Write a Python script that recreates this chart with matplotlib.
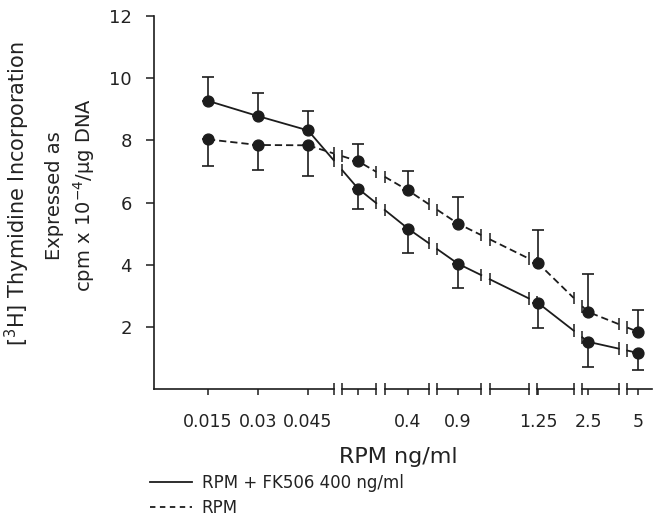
import numpy as np
import matplotlib.pyplot as plt
from matplotlib.lines import Line2D

plt.rcParams['font.family'] = 'DejaVu Sans'
plt.rcParams['mathtext.default'] = 'regular'

# doses on the broken x axis (one slot has no label in the original)
dose_labels = ['0.015', '0.03', '0.045', '', '0.4', '0.9', '1.25', '2.5', '5']

# RPM + FK506 400 ng/ml (solid)
fk_mean = [9.27, 8.78, 8.32, 6.45, 5.16, 4.03, 2.77, 1.52, 1.16]
fk_err_up = [0.77, 0.74, 0.61, 0, 0, 0, 0, 0, 0]
fk_err_down = [0, 0, 0, 0.65, 0.77, 0.77, 0.80, 0.81, 0.55]

# RPM alone (dashed)
rpm_mean = [8.03, 7.85, 7.84, 7.33, 6.39, 5.32, 4.05, 2.48, 1.84]
rpm_err_up = [0, 0, 0, 0.56, 0.62, 0.85, 1.05, 1.23, 0.69]
rpm_err_down = [0.84, 0.79, 0.99, 0, 0, 0, 0, 0, 0]

# layout of the broken axis, in slot units
x = np.arange(len(dose_labels), dtype=float)
x[6:] += 0.6  # empty segment between 0.9 and 1.25
breaks = [2.6, 3.45, 4.5, 5.55, 6.5, 7.4, 8.3]
gap = 0.17
ink = '#1c1c1c'

fig = plt.figure(figsize=(6.63, 5.27), dpi=100)
ax = fig.add_axes([154 / 663, 1 - 389 / 527, (652 - 154) / 663, (389 - 16) / 527])
ax.set_xlim(-1.08, 8.88)
ax.set_ylim(0, 12)


def broken_line(xs, ys, **kw):
    """Draw a line through the points with a gap and two bars at every axis break."""
    px, py, bx, by = [], [], [], []
    for i in range(len(xs)):
        px.append(xs[i])
        py.append(ys[i])
        if i == len(xs) - 1:
            break
        for b in breaks:
            if xs[i] < b < xs[i + 1]:
                left, right = b - gap / 2, b + gap / 2
                yl = np.interp(left, [xs[i], xs[i + 1]], [ys[i], ys[i + 1]])
                yr = np.interp(right, [xs[i], xs[i + 1]], [ys[i], ys[i + 1]])
                px += [left, np.nan, right]
                py += [yl, np.nan, yr]
                bx += [left, right]
                by += [yl, yr]
    ax.plot(px, py, color=ink, lw=1.3, **kw)
    by = np.array(by)
    ax.vlines(bx, by - 0.2, by + 0.2, color=ink, lw=1.1)


for mean, up, down, ls in [(fk_mean, fk_err_up, fk_err_down, '-'),
                           (rpm_mean, rpm_err_up, rpm_err_down, (0, (4, 2.2)))]:
    mean = np.array(mean)
    broken_line(x, mean, linestyle=ls)
    ax.errorbar(x, mean, yerr=[down, up], fmt='none', ecolor=ink,
                elinewidth=1.2, capsize=4, capthick=1.2)
    ax.plot(x, mean, 'o', color=ink, markersize=7.8, zorder=5)

# bottom axis drawn by hand because of the breaks
edges = [ax.get_xlim()[0]]
for b in breaks:
    edges += [b - gap / 2, b + gap / 2]
edges.append(ax.get_xlim()[1])
for i in range(0, len(edges), 2):
    ax.plot([edges[i], edges[i + 1]], [0, 0], color=ink, lw=1.2, clip_on=False)
ax.vlines(edges[1:-1], -0.2, 0.2, color=ink, lw=1.1, clip_on=False)

for s in ['top', 'right', 'bottom']:
    ax.spines[s].set_visible(False)
ax.spines['left'].set_color(ink)
ax.spines['left'].set_linewidth(1.2)

ax.set_xticks(x, dose_labels)
ax.set_yticks([2, 4, 6, 8, 10, 12])
ax.tick_params(axis='x', length=4, width=1.1, color=ink, pad=13,
               labelsize=12.5, labelcolor='#222222')
ax.tick_params(axis='y', length=6, width=1.1, color=ink, pad=10,
               labelsize=13, labelcolor='#222222')

# y label, three centred lines
fig.text(17 / 663, 1 - 194 / 527, '[$^{3}$H] Thymidine Incorporation', rotation=90,
         ha='center', va='center', fontsize=15, color='#222222')
fig.text(54 / 663, 1 - 196 / 527, 'Expressed as', rotation=90,
         ha='center', va='center', fontsize=14, color='#222222')
fig.text(84 / 663, 1 - 195 / 527, 'cpm x 10$^{-4}$/\u03bcg DNA', rotation=90,
         ha='center', va='center', fontsize=14, color='#222222')

fig.text(398 / 663, 1 - 457 / 527, 'RPM ng/ml', ha='center', va='center',
         fontsize=16, color='#222222')

handles = [Line2D([], [], color=ink, lw=1.3),
           Line2D([], [], color=ink, lw=1.3, linestyle=(0, (3, 2.5)))]
fig.legend(handles, ['RPM + FK506 400 ng/ml', 'RPM'], loc='upper left',
           bbox_to_anchor=(150 / 663, 1 - 474 / 527), frameon=False,
           fontsize=12, handlelength=2.5, handletextpad=0.6, labelspacing=0.4,
           borderpad=0, borderaxespad=0, labelcolor='#222222')

plt.savefig('out.png', dpi=100)
